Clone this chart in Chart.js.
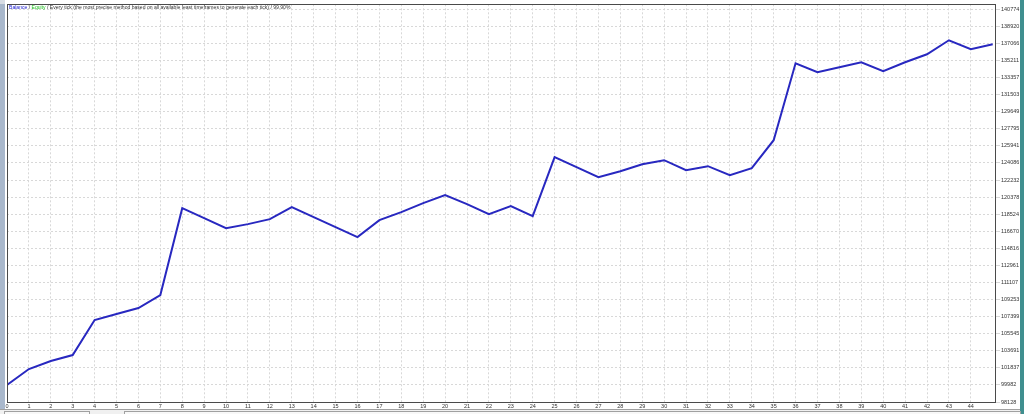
<!DOCTYPE html>
<html>
<head>
<meta charset="utf-8">
<script src="https://cdn.jsdelivr.net/npm/chart.js@4/dist/chart.umd.min.js"></script>
<style>
html,body{margin:0;padding:0;background:#fff;overflow:hidden}
#wrap{width:1024px;height:414px;position:relative}
</style>
</head>
<body>
<div id="wrap"><canvas id="c" width="1024" height="414"></canvas></div>
<script>
// ---- data ----
const deals = [0,1,2,3,4,5,6,7,8,9,10,11,12,13,14,15,16,17,18,19,20,21,22,23,24,25,26,27,28,29,30,31,32,33,34,35,36,37,38,39,40,41,42,43,44,45];
const balance = [99982,101709,102577,103228,107026,107677,108328,109738,119179,118094,117009,117443,117986,119288,118203,117117,116032,117877,118745,119722,120590,119613,118528,119396,118311,124713,123628,122543,123194,123954,124388,123302,123737,122760,123519,126558,134913,133937,134479,135022,134045,135022,135890,137410,136433,136975];
const yTickLabels = [98128,99982,101837,103691,105545,107399,109253,111107,112961,114816,116670,118524,120378,122232,124086,125941,127795,129649,131503,133357,135211,137066,138920,140774];
const xTickLabels = [0,1,2,3,4,5,6,7,8,9,10,11,12,13,14,15,16,17,18,19,20,21,22,23,24,25,26,27,28,29,30,31,32,33,34,35,36,37,38,39,40,41,42,43,44];
const headerParts = [
  {text:"Balance", color:"#2020d0"},
  {text:" / ", color:"#333333"},
  {text:"Equity", color:"#20c020"},
  {text:" / Every tick (the most precise method based on all available least timeframes to generate each tick) / 99.90%", color:"#333333"}
];

const FONT = "Liberation Sans";
const HFONT = '"Liberation Sans"';

const decor = {
  id:'decor',
  beforeDraw(chart){
    const ctx = chart.ctx;
    ctx.save();
    ctx.fillStyle = '#ffffff';
    ctx.fillRect(0,0,1024,414);
    ctx.fillStyle = '#a9b8cc';
    ctx.fillRect(0,0,5,414);
    ctx.fillStyle = '#d8dde4';
    ctx.fillRect(0,0,5,4);
    ctx.fillStyle = '#3f8f8f';
    ctx.fillRect(1020,0,4,414);
    ctx.fillStyle = '#f0f0f0';
    ctx.fillRect(0,409,1020,5);
    ctx.strokeStyle = '#a0a0a0';
    ctx.lineWidth = 1;
    ctx.beginPath(); ctx.moveTo(0,409.5); ctx.lineTo(1020,409.5); ctx.stroke();
    ctx.fillStyle = '#f8f8f8';
    ctx.fillRect(4,411,85,3);
    ctx.strokeRect(4.5,411.5,85,4);
    ctx.fillRect(124,411,896,3);
    ctx.strokeRect(124.5,411.5,896,4);
    ctx.restore();
  },
  afterDraw(chart){
    const ctx = chart.ctx, a = chart.chartArea;
    ctx.save();
    ctx.strokeStyle = '#4a4a4a';
    ctx.lineWidth = 1;
    ctx.strokeRect(Math.round(a.left)+0.5, Math.round(a.top)+0.5, Math.round(a.right-a.left)-1, Math.round(a.bottom-a.top));
    const full = headerParts.map(p=>p.text).join('');
    let size = 6;
    ctx.font = size+'px '+HFONT;
    const w = ctx.measureText(full).width;
    size = Math.min(6.5, size * 282 / w);
    ctx.font = size.toFixed(2)+'px '+HFONT;
    ctx.textBaseline = 'middle';
    let x = 9;
    headerParts.forEach(p=>{
      ctx.fillStyle = p.color;
      ctx.fillText(p.text, x, 8);
      x += ctx.measureText(p.text).width;
    });
    ctx.restore();
  }
};

new Chart(document.getElementById('c'), {
  type:'line',
  data:{
    datasets:[{
      data: deals.map((d,i)=>({x:d, y:balance[i]})),
      borderColor:'#2828c0',
      borderWidth:2,
      pointRadius:0,
      tension:0,
      fill:false
    }]
  },
  options:{
    responsive:false,
    animation:false,
    devicePixelRatio:1,
    layout:{padding:{left:7, top:3, right:0, bottom:0}},
    plugins:{legend:{display:false}, tooltip:{enabled:false}},
    scales:{
      x:{
        type:'linear',
        min:0, max:45.15,
        afterBuildTicks(s){ s.ticks = xTickLabels.map(v=>({value:v})); },
        afterFit(s){ s.height = 12; },
        grid:{color:'#d8d8d8', lineWidth:1, drawTicks:false},
        border:{display:false, dash:[2,2]},
        ticks:{
          font:{family:FONT, size:5.5},
          color:'#333333',
          padding:1,
          maxRotation:0,
          autoSkip:false,
          callback:(v)=>String(v)
        }
      },
      y:{
        type:'linear',
        position:'right',
        min:98128, max:141317,
        afterBuildTicks(s){ s.ticks = yTickLabels.map(v=>({value:v})); },
        afterFit(s){ s.width = 28; },
        grid:{color:'#d8d8d8', lineWidth:1, drawTicks:true, tickLength:4},
        border:{display:false, dash:[2,2]},
        ticks:{
          font:{family:FONT, size:5.5},
          color:'#333333',
          padding:1,
          autoSkip:false,
          callback:(v)=>String(v)
        }
      }
    }
  },
  plugins:[decor]
});
</script>
</body>
</html>
